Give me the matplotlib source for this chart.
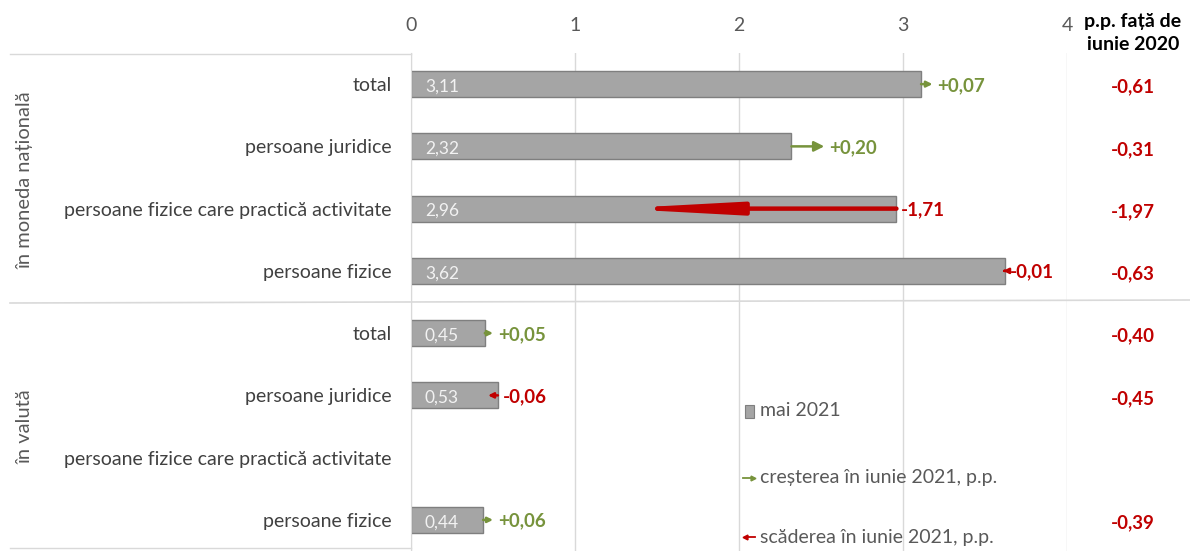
import numpy as np
import matplotlib
matplotlib.use('Agg')
import matplotlib.pyplot as plt
from matplotlib.lines import Line2D
from matplotlib.patches import Rectangle

plt.rcParams['font.family'] = ['Lato', 'DejaVu Sans']

groups = ['în moneda națională', 'în valută']
categories = ['total', 'persoane juridice', 'persoane fizice care practică activitate', 'persoane fizice',
              'total', 'persoane juridice', 'persoane fizice care practică activitate', 'persoane fizice']
may_2021 = [3.11, 2.32, 2.96, 3.62, 0.45, 0.53, np.nan, 0.44]
change_june = [0.07, 0.20, -1.71, -0.01, 0.05, -0.06, np.nan, 0.06]
vs_june_2020 = [-0.61, -0.31, -1.97, -0.63, -0.40, -0.45, np.nan, -0.39]
xticks = [0, 1, 2, 3, 4]

GREY = '#a5a5a5'
GREEN = '#77933c'
RED = '#c00000'
TXT = '#595959'
GRID = '#d9d9d9'

W, H = 1190, 551
fig = plt.figure(figsize=(W/100, H/100), dpi=100)
ax = fig.add_axes([411/W, 0, (1067-411)/W, 1-53/H])

y = np.arange(len(categories))
ax.barh(y, may_2021, height=0.42, color=GREY, edgecolor='#7f7f7f', linewidth=1, zorder=2)
ax.set_ylim(len(categories)-0.5, -0.5)
ax.set_xlim(0, 4)
ax.set_xticks(xticks)
ax.set_xticklabels([str(t) for t in xticks])
ax.xaxis.tick_top()
ax.tick_params(axis='x', length=0, pad=14, labelsize=14, labelcolor=TXT)
ax.set_yticks(y)
ax.set_yticklabels(categories)
ax.tick_params(axis='y', length=0, pad=14, labelsize=14, labelcolor='#404040')
ax.grid(axis='x', color=GRID, lw=1, zorder=0)
for s in ['top', 'right', 'bottom']:
    ax.spines[s].set_visible(False)
ax.spines['left'].set_color(GRID)
ax.spines['left'].set_zorder(3)

for i in range(len(categories)):
    v = may_2021[i]
    d = change_june[i]
    if np.isnan(v):
        continue
    ax.text(0.085, i + 0.04, f'{v:.2f}'.replace('.', ','), color='#f2f2f2', fontsize=12.5,
            va='center', ha='left', zorder=4)
    end = v + d
    alen = abs(d) * 164
    col = GREEN if d > 0 else RED
    if d < -1:
        style = '-|>,head_length=65,head_width=3.5'
        lw = 3.2
    else:
        hl = max(3, min(6, alen * 0.3))
        style = f'-|>,head_length={hl},head_width={hl*0.5}'
        lw = 1.8
    ax.annotate('', xy=(end, i), xytext=(v, i),
                arrowprops=dict(arrowstyle=style, color=col, lw=lw, shrinkA=0, shrinkB=0,
                                mutation_scale=1), zorder=5)
    lab = f'{d:+.2f}'.replace('.', ',')
    lx = max(v, end) + 0.03
    ax.text(lx, i + 0.02, lab, color=col, fontsize=13.5, fontweight='bold', va='center', ha='left', zorder=5)

# right column
for i, r in enumerate(vs_june_2020):
    if np.isnan(r):
        continue
    ax.text((1133-411)/164, i + 0.05, f'{r:.2f}'.replace('.', ','), color=RED, fontsize=13.5,
            fontweight='bold', ha='center', va='center', clip_on=False)
fig.text(1133/W, 1-33/H, 'p.p. față de\niunie 2020', ha='center', va='center', fontsize=14,
         fontweight='bold', color='black', linespacing=1.4)

# group labels
fig.text(25/W, 1-180/H, groups[0], rotation=90, ha='center', va='center', fontsize=14.5, color=TXT)
fig.text(25/W, 1-427/H, groups[1], rotation=90, ha='center', va='center', fontsize=14.5, color=TXT)

# frame lines
fig.add_artist(Line2D([10/W, 411/W], [1-54/H, 1-54/H], color=GRID, lw=1))
fig.add_artist(Line2D([10/W, 411/W], [1-548/H, 1-548/H], color=GRID, lw=1))
fig.add_artist(Line2D([10/W, 1], [1-303/H, 1-300/H], color=GRID, lw=1.2))

# legend
fig.add_artist(Rectangle((745/W, 1-418/H), 9/W, 13/H, transform=fig.transFigure,
                         facecolor=GREY, edgecolor='#7f7f7f', lw=0.8))
fig.text(760/W, 1-411/H, 'mai 2021', fontsize=14, color=TXT, va='center')
fig.add_artist(Line2D([743/W, 752/W], [1-478/H, 1-478/H], color=GREEN, lw=1.3))
fig.add_artist(Line2D([753/W], [1-478/H], color=GREEN, marker='>', markersize=3.5, lw=0))
fig.text(760/W, 1-478/H, 'creșterea în iunie 2021, p.p.', fontsize=14, color=TXT, va='center')
fig.add_artist(Line2D([746/W, 755/W], [1-537/H, 1-537/H], color=RED, lw=1.3))
fig.add_artist(Line2D([745/W], [1-537/H], color=RED, marker='<', markersize=3.5, lw=0))
fig.text(760/W, 1-537/H, 'scăderea în iunie 2021, p.p.', fontsize=14, color=TXT, va='center')

fig.savefig('out.png', dpi=100)
